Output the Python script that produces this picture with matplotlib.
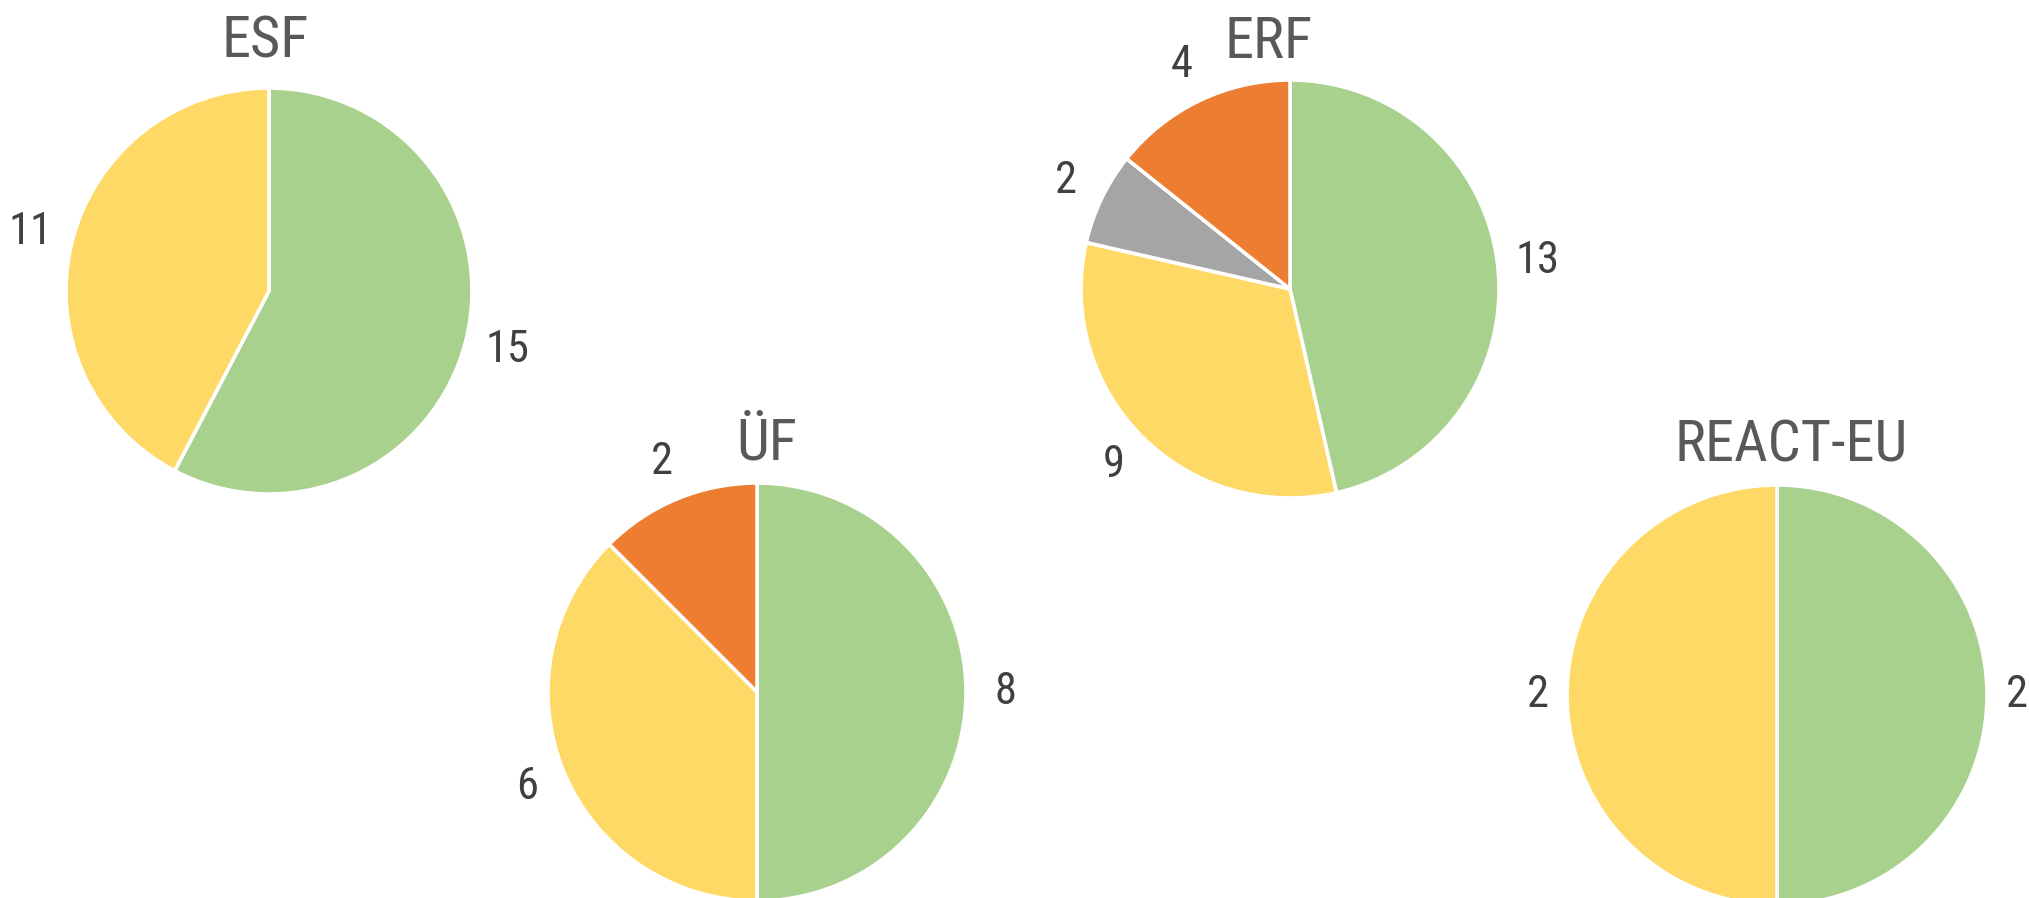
import matplotlib
matplotlib.use("Agg")
import matplotlib.pyplot as plt

# Werte je Fonds (im Uhrzeigersinn ab 12 Uhr)
esf_values = [15, 11]
uef_values = [8, 6, 2]
erf_values = [13, 9, 2, 4]
react_values = [2, 2]

titles = ["ESF", "ÜF", "ERF", "REACT-EU"]

GREEN = "#A9D18E"
YELLOW = "#FFD966"
GRAY = "#A5A5A5"
ORANGE = "#ED7D31"

esf_colors = [GREEN, YELLOW]
uef_colors = [GREEN, YELLOW, ORANGE]
erf_colors = [GREEN, YELLOW, GRAY, ORANGE]
react_colors = [GREEN, YELLOW]

plt.rcParams["font.family"] = ["Roboto Condensed", "Roboto", "DejaVu Sans"]
plt.rcParams["font.stretch"] = "condensed"

W, H = 2029, 898
fig = plt.figure(figsize=(W / 100, H / 100), dpi=100)
ax = fig.add_axes([0, 0, 1, 1])

# Lage der Kreise in Pixeln: Mitte x, Mitte y (von oben), Radius, Titel x, Titel-Grundlinie, Abstand der Zahlen
layout = [
    (269, 291, 203, 265, 58, 1.21),
    (757, 692, 209, 767, 459, 1.19),
    (1290, 289, 209, 1269, 58, 1.19),
    (1777, 695, 210, 1791, 461, 1.14),
]
series = [
    (esf_values, esf_colors),
    (uef_values, uef_colors),
    (erf_values, erf_colors),
    (react_values, react_colors),
]

for (vals, cols), title, (cx, cy, r, tx, ty, ld) in zip(series, titles, layout):
    wedges, texts = ax.pie(
        vals,
        colors=cols,
        labels=[str(v) for v in vals],
        startangle=90,
        counterclock=False,
        center=(cx, H - cy),
        radius=r,
        labeldistance=ld,
        wedgeprops=dict(edgecolor="white", linewidth=2.6),
        textprops=dict(fontsize=32, color="#404040"),
        frame=True,
    )
    for t in texts:
        t.set_ha("center")
        t.set_va("center")
    ax.text(tx, H - ty, title, ha="center", va="baseline",
            fontsize=42, color="#595959")

ax.set_xlim(0, W)
ax.set_ylim(0, H)
ax.set_aspect("equal")
ax.axis("off")

fig.savefig("out.png", dpi=100, facecolor="white")
